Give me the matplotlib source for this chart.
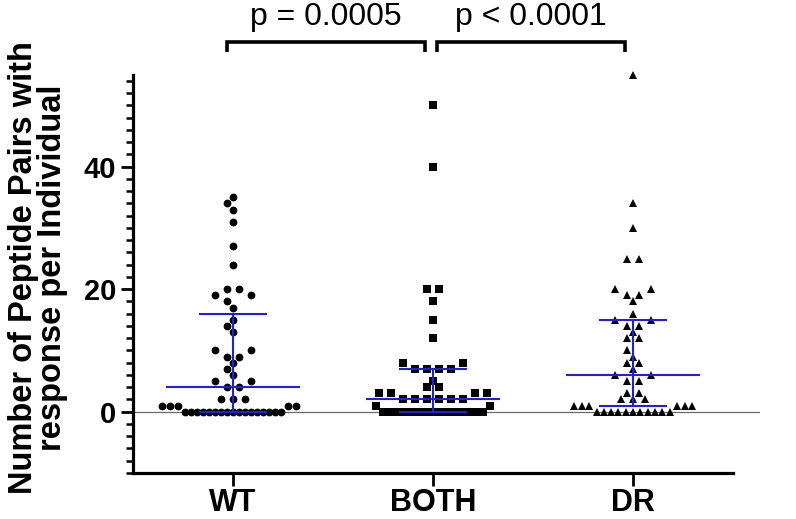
import matplotlib
matplotlib.use("Agg")
import matplotlib.pyplot as plt
from matplotlib.ticker import MultipleLocator, FixedLocator
from collections import Counter

plt.rcParams['font.family'] = ['Liberation Sans', 'DejaVu Sans']

# ---------------- data ----------------
categories = ['WT', 'BOTH', 'DR']

wt_values = [35, 34, 33, 31, 27, 24, 20, 20, 19, 19, 18, 17, 15, 14, 13,
             10, 10, 9, 9, 8, 7, 6, 5, 5, 4, 4, 2, 2, 2,
             1, 1, 1, 1, 1,
             0, 0, 0, 0, 0, 0, 0, 0, 0, 0, 0, 0, 0, 0, 0, 0, 0]

both_values = [50, 40, 20, 20, 18, 15, 12, 8, 8, 7, 7, 7, 7, 5, 4, 4,
               3, 3, 3, 3, 2, 2, 2, 2, 2, 2, 1, 1,
               0, 0, 0, 0, 0, 0, 0, 0, 0, 0, 0,
               0, 0, 0, 0, 0, 0, 0, 0, 0, 0, 0]

dr_values = [55, 34, 30, 25, 25, 20, 20, 19, 19, 18, 16, 15, 15, 14, 14,
             13, 12, 12, 10, 9, 8, 8, 7, 6, 6, 5, 5, 3, 3, 2, 2, 2,
             1, 1, 1, 1, 1, 1,
             0, 0, 0, 0, 0, 0, 0, 0, 0, 0, 0]

medians = [4, 2, 6]
q1 = [0, 0, 1]
q3 = [16, 7, 15]

p_labels = ['p = 0.0005', 'p < 0.0001']
y_major_ticks = [0, 20, 40]
y_label = 'Number of Peptide Pairs with\nresponse per Individual'

# ---------------- style ----------------
markers = ['o', 's', '^']
marker_sizes = [5.6, 5.3, 6.0]
dense_steps_px = [6.0, 4.76, 7.3]
STEP_PX = 6.0
BLUE = '#2020dc'

fig = plt.figure(figsize=(7.96, 5.19), dpi=100)
ax = fig.add_axes([133 / 796, 46 / 519, (760 - 133) / 796, 398.2 / 519])
ax.set_xlim(-0.5, 2.635)
ax.set_ylim(-10, 55)

ax_w_px = fig.get_figwidth() * fig.dpi * ax.get_position().width
px_per_unit = ax_w_px / (ax.get_xlim()[1] - ax.get_xlim()[0])


def swarm_offsets(values, step, dense_step, min_dense=8):
    counts = Counter(values)
    rows = sorted(counts)
    dense = [v for v in rows if counts[v] >= min_dense]
    placed = {}
    for v in rows:
        n = counts[v]
        if v in dense:
            offs = [(i - (n - 1) / 2) * dense_step for i in range(n)]
        else:
            nb = [u for u in dense if abs(u - v) == 1]
            if nb:
                half = (counts[nb[0]] - 1) / 2 * dense_step
                offs = []
                for i in range(n):
                    side = -1 if i % 2 == 0 else 1
                    j = i // 2
                    offs.append(side * (half + step * (1.2 + 1.3 * j)))
            else:
                adj = [o for u in (v - 1, v + 1)
                       if u in placed and u not in dense for o in placed[u]]

                def ok(c):
                    return all(abs(a - b) > step * 0.5 for a in c for b in adj)

                offs = None
                if n == 1:
                    for k in [0, -1, 1, -2, 2, -3, 3, -4, 4, -5, 5]:
                        if ok([k * step]):
                            offs = [k * step]
                            break
                elif n % 2 == 0:
                    for s in range(10):
                        c = []
                        for j in range(n // 2):
                            m = (2 * j + 1 + 2 * s) * step
                            c += [-m, m]
                        if ok(c):
                            offs = c
                            break
                else:
                    for k in [0, -1, 1, -2, 2, -3, 3]:
                        c = [k * step]
                        for j in range(1, n // 2 + 1):
                            c += [(k - 2 * j) * step, (k + 2 * j) * step]
                        if ok(c):
                            offs = c
                            break
                if offs is None:
                    offs = [(i - (n - 1) / 2) * 2 * step for i in range(n)]
        placed[v] = offs
    xs, ys = [], []
    for v in rows:
        for o in placed[v]:
            xs.append(o)
            ys.append(v)
    return xs, ys


groups = [wt_values, both_values, dr_values]
for i, vals in enumerate(groups):
    offs, ys = swarm_offsets(vals, STEP_PX, dense_steps_px[i])
    xs = [i + o / px_per_unit for o in offs]
    ax.plot(xs, ys, linestyle='none', marker=markers[i], markersize=marker_sizes[i],
            color='black', markeredgewidth=0, zorder=3, clip_on=False)
    # median and interquartile range
    ax.plot([i, i], [q1[i], q3[i]], color=BLUE, lw=1.5, zorder=4)
    ax.plot([i - 0.165, i + 0.165], [q1[i], q1[i]], color=BLUE, lw=1.5, zorder=4)
    ax.plot([i - 0.165, i + 0.165], [q3[i], q3[i]], color=BLUE, lw=1.5, zorder=4)
    ax.plot([i - 0.33, i + 0.33], [medians[i], medians[i]], color=BLUE, lw=1.5, zorder=4)

ax.axhline(0, color='#6a6a6a', lw=0.9, zorder=1)

# significance brackets
bracket_pairs = [(0 - 0.03, 1 - 0.04), (1 + 0.02, 2 - 0.04)]
for (a, b), lab in zip(bracket_pairs, p_labels):
    ax.plot([a, a, b, b], [58.8, 60.4, 60.4, 58.8], color='black', lw=2.6,
            clip_on=False, solid_joinstyle='miter', solid_capstyle='butt')
    ax.text((a + b) / 2, 63.1, lab, ha='center', va='baseline', fontsize=23,
            clip_on=False)

# axes styling
for s in ['top', 'right']:
    ax.spines[s].set_visible(False)
ax.spines['left'].set_linewidth(2.3)
ax.spines['bottom'].set_linewidth(2.3)
ax.spines['bottom'].set_bounds(-0.5, 2.5)

ax.yaxis.set_major_locator(FixedLocator(y_major_ticks))
ax.yaxis.set_minor_locator(MultipleLocator(2))
ax.set_yticklabels([str(t) for t in y_major_ticks], fontsize=21, fontweight='bold')
ax.tick_params(axis='y', which='major', length=9, width=2.0, pad=3)
ax.tick_params(axis='y', which='minor', length=5, width=1.8)
ax.set_xticks(range(len(categories)))
ax.set_xticklabels(categories, fontsize=22, fontweight='bold')
ax.tick_params(axis='x', which='major', length=9, width=2.0, pad=2)

fig.text(38 / 796, 1 - 268 / 519, y_label, rotation=90, ha='center', va='center',
         fontsize=23.5, fontweight='bold', linespacing=0.95, multialignment='center')

fig.savefig('out.png', dpi=100)
